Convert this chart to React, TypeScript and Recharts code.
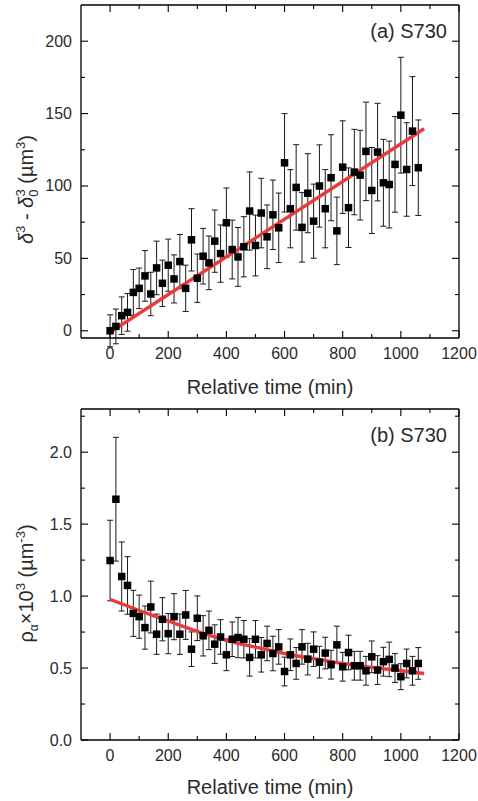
import React from "react";
import {
  ComposedChart,
  Scatter,
  Line,
  XAxis,
  YAxis,
  ZAxis,
  ErrorBar,
} from "recharts";

// ---------- data ----------
const times = [
  0, 20, 40, 60, 80, 100, 120, 140, 160, 180, 200, 220, 240, 260, 280, 300, 320, 340,
  360, 380, 400, 420, 440, 460, 480, 500, 520, 540, 560, 580, 600, 620, 640, 660, 680,
  700, 720, 740, 760, 780, 800, 820, 840, 860, 880, 900, 920, 940, 960, 980, 1000,
  1020, 1040, 1060,
];

const deltaCube = [
  0, 3, 10.4, 12.7, 26.5, 29.3, 37.9, 25.4, 43.4, 32.8, 45.3, 35.8, 47.8, 29.3, 62.8,
  36.3, 51.5, 46.9, 61.9, 53.3, 74.6, 56.1, 51, 58, 82.7, 58.9, 81.3, 64.9, 80.1, 71.1,
  116, 84.3, 99, 71.4, 95, 75.7, 100, 84.3, 105.7, 69, 113, 85, 109.6, 107.5, 123.9,
  96.9, 123.4, 102.2, 101, 114.9, 148.9, 111.4, 137.9, 112.6,
];

const deltaCubeErr = [
  11, 12, 13, 13, 15.8, 14, 17.5, 15, 18.5, 16, 18, 16.6, 18.7, 16, 21.5, 16.7, 19.2,
  18.5, 21.5, 19.8, 24, 20.3, 20.3, 20.8, 27, 21, 24, 22, 24, 24, 34, 27, 29.5, 24,
  27.3, 25.6, 28.4, 27, 29.7, 23.3, 32, 27.5, 29.5, 31, 34, 29.7, 33.7, 30, 30, 33, 40,
  32.3, 37.6, 33,
];

const density = [
  1.247, 1.673, 1.136, 1.074, 0.88, 0.857, 0.781, 0.924, 0.735, 0.839, 0.739, 0.857,
  0.735, 0.869, 0.631, 0.846, 0.724, 0.762, 0.666, 0.716, 0.592, 0.7, 0.712, 0.7, 0.574,
  0.7, 0.592, 0.671, 0.601, 0.647, 0.476, 0.592, 0.532, 0.647, 0.562, 0.631, 0.541,
  0.604, 0.523, 0.661, 0.509, 0.608, 0.516, 0.516, 0.481, 0.578, 0.486, 0.544, 0.56, 0.5,
  0.44, 0.532, 0.481, 0.532,
];

const densityErr = [
  0.28, 0.43, 0.24, 0.2, 0.16, 0.15, 0.15, 0.18, 0.14, 0.15, 0.14, 0.16, 0.14, 0.17,
  0.12, 0.155, 0.14, 0.134, 0.134, 0.12, 0.11, 0.12, 0.14, 0.13, 0.13, 0.13, 0.12, 0.12,
  0.12, 0.12, 0.1, 0.11, 0.11, 0.12, 0.11, 0.12, 0.11, 0.11, 0.1, 0.13, 0.1, 0.12, 0.1,
  0.1, 0.1, 0.11, 0.1, 0.1, 0.12, 0.1, 0.09, 0.1, 0.1, 0.11,
];

// fitted curves
const fitATimes = [0, 1080];
const fitAValues = [-1, 139.5];
const fitBTimes = [0, 100, 200, 300, 400, 500, 600, 700, 800, 900, 1000, 1080];
const fitBValues = [0.977, 0.9, 0.827, 0.755, 0.693, 0.645, 0.601, 0.565, 0.532, 0.505, 0.481, 0.462];

// axis ticks
const xTicks = [0, 100, 200, 300, 400, 500, 600, 700, 800, 900, 1000, 1100, 1200];
const xLabelled = [0, 200, 400, 600, 800, 1000, 1200];
const yTicksA = [0, 25, 50, 75, 100, 125, 150, 175, 200];
const yLabelledA = [0, 50, 100, 150, 200];
const yTicksB = [0, 0.25, 0.5, 0.75, 1, 1.25, 1.5, 1.75, 2, 2.25];
const yLabelledB = [0, 0.5, 1, 1.5, 2];

const dataA = times.map((t, i) => ({ t, v: deltaCube[i], e: deltaCubeErr[i] }));
const dataB = times.map((t, i) => ({ t, v: density[i], e: densityErr[i] }));
const fitA = fitATimes.map((t, i) => ({ t, v: fitAValues[i] }));
const fitB = fitBTimes.map((t, i) => ({ t, v: fitBValues[i] }));

// ---------- styles ----------
const FONT = "'Liberation Sans', Arial, sans-serif";
const TEXT = "#2a2a2a";
const TICK_FS = 16;
const TITLE_FS = 20;
const MAJOR = 7;
const MINOR = 4;
const AXIS_W = 1.3;

const makeBottomTick = (labelled: number[], dy: number) => (props: any) => {
  const { x, y, payload } = props;
  const major = labelled.includes(payload.value);
  return (
    <g>
      <line x1={x} x2={x} y1={y} y2={y - (major ? MAJOR : MINOR)} stroke="#000" strokeWidth={1.1} />
      {major && (
        <text x={x} y={y + dy} textAnchor="middle" fontSize={TICK_FS} fontFamily={FONT} fill={TEXT}>
          {payload.value}
        </text>
      )}
    </g>
  );
};

const makeTopTick = (labelled: number[]) => (props: any) => {
  const { x, y, payload } = props;
  const major = labelled.includes(payload.value);
  return <line x1={x} x2={x} y1={y} y2={y + (major ? MAJOR : MINOR)} stroke="#000" strokeWidth={1.1} />;
};

const makeLeftTick = (labelled: number[], fmt: (v: number) => string) => (props: any) => {
  const { x, y, payload } = props;
  const major = labelled.includes(payload.value);
  return (
    <g>
      <line x1={x} x2={x + (major ? MAJOR : MINOR)} y1={y} y2={y} stroke="#000" strokeWidth={1.1} />
      {major && (
        <text x={x - 9} y={y + 5.5} textAnchor="end" fontSize={TICK_FS} fontFamily={FONT} fill={TEXT}>
          {fmt(payload.value)}
        </text>
      )}
    </g>
  );
};

const makeRightTick = (labelled: number[]) => (props: any) => {
  const { x, y, payload } = props;
  const major = labelled.includes(payload.value);
  return <line x1={x} x2={x - (major ? MAJOR : MINOR)} y1={y} y2={y} stroke="#000" strokeWidth={1.1} />;
};

// bottom axis label: axis title plus the panel tag (placed relative to the plot box)
const xTitle = (dy: number, plotHeight: number, tag: string) => (props: any) => {
  const vb = props.viewBox || {};
  return (
    <g>
      <text
        x={vb.x + vb.width / 2}
        y={vb.y + dy}
        textAnchor="middle"
        fontSize={TITLE_FS}
        fontFamily={FONT}
        fill={TEXT}
      >
        Relative time (min)
      </text>
      <text
        x={vb.x + vb.width - 12}
        y={vb.y - plotHeight + 33}
        textAnchor="end"
        fontSize={TITLE_FS}
        fontFamily={FONT}
        fill={TEXT}
      >
        {tag}
      </text>
    </g>
  );
};

const yTitleA = (props: any) => {
  const vb = props.viewBox || {};
  const cx = vb.x + 33;
  const cy = vb.y + vb.height / 2 + 18;
  return (
    <text
      x={cx}
      y={cy}
      transform={`rotate(-90, ${cx}, ${cy})`}
      textAnchor="middle"
      fontSize={TITLE_FS}
      fontFamily={FONT}
      fill={TEXT}
    >
      <tspan fontStyle="italic">δ</tspan>
      <tspan fontSize={13} dy={-8}>3</tspan>
      <tspan dy={8}>{" - "}</tspan>
      <tspan fontStyle="italic">δ</tspan>
      <tspan fontSize={13} dy={5}>0</tspan>
      <tspan fontSize={13} dx={-7} dy={-13}>3</tspan>
      <tspan dy={8}>{" (µm"}</tspan>
      <tspan fontSize={13} dy={-8}>3</tspan>
      <tspan dy={8}>)</tspan>
    </text>
  );
};

const yTitleB = (props: any) => {
  const vb = props.viewBox || {};
  const cx = vb.x + 33;
  const cy = vb.y + vb.height / 2 + 9;
  return (
    <text
      x={cx}
      y={cy}
      transform={`rotate(-90, ${cx}, ${cy})`}
      textAnchor="middle"
      fontSize={TITLE_FS}
      fontFamily={FONT}
      fill={TEXT}
    >
      <tspan>ρ</tspan>
      <tspan fontSize={12} dy={5}>α</tspan>
      <tspan dy={-5}>×10</tspan>
      <tspan fontSize={13} dy={-8}>3</tspan>
      <tspan dy={8}>{" (µm"}</tspan>
      <tspan fontSize={13} dy={-8}>-3</tspan>
      <tspan dy={8}>)</tspan>
    </text>
  );
};

const Square = (props: any) => {
  const { cx, cy } = props;
  const s = 7.5;
  return <rect x={cx - s / 2} y={cy - s / 2} width={s} height={s} fill="#000" />;
};

const RED = "#ea3a3a";

const H_A = 400;
const H_B = 401;
const TOP_A = 4;
const TOP_B = 8;
const XH_A = 62;
const XH_B = 61;
const PLOT_H_A = H_A - TOP_A - 1 - XH_A;
const PLOT_H_B = H_B - TOP_B - 1 - XH_B;

export default function App() {
  return (
    <div style={{ position: "absolute", left: 0, top: 0, width: 478, height: 801, background: "#fff" }}>
      {/* Panel (a) */}
      <ComposedChart width={478} height={H_A} margin={{ top: TOP_A, right: 18, bottom: 0, left: 0 }}>
        <XAxis
          xAxisId="b"
          dataKey="t"
          type="number"
          domain={[-100, 1200]}
          ticks={xTicks}
          allowDataOverflow
          height={XH_A}
          tickSize={0}
          tickMargin={0}
          interval={0}
          axisLine={{ stroke: "#000", strokeWidth: AXIS_W }}
          tickLine={false}
          tick={makeBottomTick(xLabelled, 21)}
          label={{ content: xTitle(56, PLOT_H_A, "(a) S730") }}
        />
        <XAxis
          xAxisId="t"
          dataKey="t"
          type="number"
          orientation="top"
          domain={[-100, 1200]}
          ticks={xTicks}
          allowDataOverflow
          height={1}
          tickSize={0}
          tickMargin={0}
          interval={0}
          axisLine={{ stroke: "#000", strokeWidth: AXIS_W }}
          tickLine={false}
          tick={makeTopTick(xLabelled)}
        />
        <YAxis
          yAxisId="l"
          type="number"
          domain={[-5, 225]}
          ticks={yTicksA}
          allowDataOverflow
          width={81}
          tickSize={0}
          tickMargin={0}
          interval={0}
          axisLine={{ stroke: "#000", strokeWidth: AXIS_W }}
          tickLine={false}
          tick={makeLeftTick(yLabelledA, (v) => String(v))}
          label={{ content: yTitleA }}
        />
        <YAxis
          yAxisId="r"
          type="number"
          orientation="right"
          domain={[-5, 225]}
          ticks={yTicksA}
          allowDataOverflow
          width={1}
          tickSize={0}
          tickMargin={0}
          interval={0}
          axisLine={{ stroke: "#000", strokeWidth: AXIS_W }}
          tickLine={false}
          tick={makeRightTick(yLabelledA)}
        />
        <ZAxis range={[56, 56]} />
        <Scatter
          xAxisId="b"
          yAxisId="l"
          data={dataA}
          dataKey="v"
          shape={<Square />}
          isAnimationActive={false}
        >
          <ErrorBar dataKey="e" direction="y" width={3} stroke="#1a1a1a" strokeWidth={1} />
        </Scatter>
        <Line
          xAxisId="b"
          yAxisId="l"
          data={fitA}
          dataKey="v"
          type="linear"
          stroke={RED}
          strokeWidth={3.4}
          dot={false}
          activeDot={false}
          isAnimationActive={false}
        />
      </ComposedChart>

      {/* Panel (b) */}
      <ComposedChart width={478} height={H_B} margin={{ top: TOP_B, right: 18, bottom: 0, left: 0 }}>
        <XAxis
          xAxisId="b"
          dataKey="t"
          type="number"
          domain={[-100, 1200]}
          ticks={xTicks}
          allowDataOverflow
          height={XH_B}
          tickSize={0}
          tickMargin={0}
          interval={0}
          axisLine={{ stroke: "#000", strokeWidth: AXIS_W }}
          tickLine={false}
          tick={makeBottomTick(xLabelled, 21)}
          label={{ content: xTitle(54, PLOT_H_B, "(b) S730") }}
        />
        <XAxis
          xAxisId="t"
          dataKey="t"
          type="number"
          orientation="top"
          domain={[-100, 1200]}
          ticks={xTicks}
          allowDataOverflow
          height={1}
          tickSize={0}
          tickMargin={0}
          interval={0}
          axisLine={{ stroke: "#000", strokeWidth: AXIS_W }}
          tickLine={false}
          tick={makeTopTick(xLabelled)}
        />
        <YAxis
          yAxisId="l"
          type="number"
          domain={[0, 2.3]}
          ticks={yTicksB}
          allowDataOverflow
          width={81}
          tickSize={0}
          tickMargin={0}
          interval={0}
          axisLine={{ stroke: "#000", strokeWidth: AXIS_W }}
          tickLine={false}
          tick={makeLeftTick(yLabelledB, (v) => v.toFixed(1))}
          label={{ content: yTitleB }}
        />
        <YAxis
          yAxisId="r"
          type="number"
          orientation="right"
          domain={[0, 2.3]}
          ticks={yTicksB}
          allowDataOverflow
          width={1}
          tickSize={0}
          tickMargin={0}
          interval={0}
          axisLine={{ stroke: "#000", strokeWidth: AXIS_W }}
          tickLine={false}
          tick={makeRightTick(yLabelledB)}
        />
        <ZAxis range={[56, 56]} />
        <Scatter
          xAxisId="b"
          yAxisId="l"
          data={dataB}
          dataKey="v"
          shape={<Square />}
          isAnimationActive={false}
        >
          <ErrorBar dataKey="e" direction="y" width={3} stroke="#1a1a1a" strokeWidth={1} />
        </Scatter>
        <Line
          xAxisId="b"
          yAxisId="l"
          data={fitB}
          dataKey="v"
          type="monotone"
          stroke={RED}
          strokeWidth={3.4}
          dot={false}
          activeDot={false}
          isAnimationActive={false}
        />
      </ComposedChart>
    </div>
  );
}
